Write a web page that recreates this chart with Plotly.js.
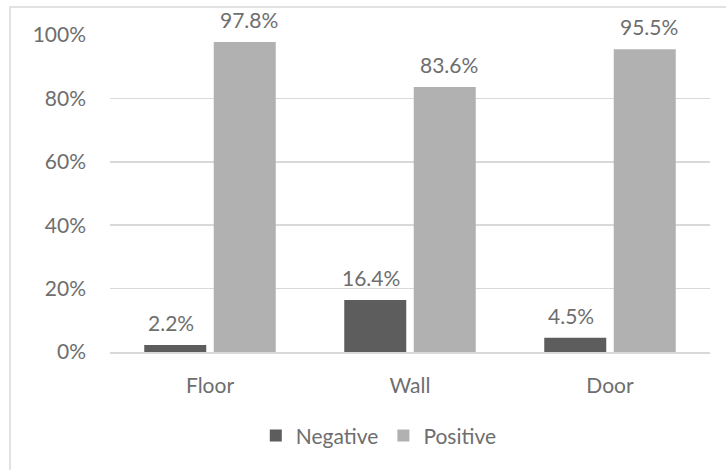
<!DOCTYPE html>
<html>
<head>
<meta charset="utf-8">
<script src="https://cdn.plot.ly/plotly-3.0.1.min.js"></script>
<style>html,body{margin:0;padding:0;background:#fff;}#chart{width:726px;height:470px;}</style>
</head>
<body>
<div id="chart"></div>
<script>
const categories = ["Floor", "Wall", "Door"];
const seriesNames = ["Negative", "Positive"];
const negativeValues = [0.022, 0.164, 0.045];
const positiveValues = [0.978, 0.836, 0.955];
const negativeLabels = ["2.2%", "16.4%", "4.5%"];
const positiveLabels = ["97.8%", "83.6%", "95.5%"];
const yTickVals = [0, 0.2, 0.4, 0.6, 0.8, 1.0];
const yTickText = ["0%", "20%", "40%", "60%", "80%", "100%"];

const font = "Lato, 'Open Sans', sans-serif";
const textColor = "#6e6e6e";
const fs = 21;

const traces = [
  {
    type: "bar", name: seriesNames[0], x: categories, y: negativeValues,
    marker: {color: "#5d5d5d"}, hoverinfo: "none"
  },
  {
    type: "bar", name: seriesNames[1], x: categories, y: positiveValues,
    marker: {color: "#b1b1b1"}, hoverinfo: "none"
  }
];

const annotations = [];
[[negativeValues, negativeLabels, -38.75], [positiveValues, positiveLabels, 38.75]].forEach(([vals, labs, dx]) => {
  categories.forEach((c, i) => {
    annotations.push({
      x: c, y: vals[i], xref: "x", yref: "y", text: labs[i],
      showarrow: false, xanchor: "center", yanchor: "bottom",
      xshift: dx, yshift: 8,
      font: {family: font, size: fs, color: textColor}
    });
  });
});

const W = 600, H = 317;
const layout = {
  width: 726, height: 470,
  margin: {l: 110, r: 16, t: 35, b: 118},
  paper_bgcolor: "#ffffff", plot_bgcolor: "#ffffff",
  font: {family: font, size: fs, color: textColor},
  barmode: "group", bargap: 0.305, bargroupgap: 0.108,
  showlegend: true,
  legend: {orientation: "h", x: 0.448, xanchor: "center", y: -0.2, yanchor: "top",
           font: {family: font, size: fs, color: textColor}, itemwidth: 30},
  xaxis: {
    showgrid: false, showline: true, linecolor: "#d9d9d9", linewidth: 1.5,
    ticks: "", ticklabelstandoff: 14,
    tickfont: {family: font, size: fs, color: textColor}
  },
  yaxis: {
    range: [0, 1], tickvals: yTickVals, ticktext: yTickText,
    showgrid: true, gridcolor: "#d9d9d9", gridwidth: 1.5,
    zeroline: false, showline: false, ticks: "", ticklabelstandoff: 23,
    tickfont: {family: font, size: fs, color: textColor}
  },
  annotations: annotations,
  shapes: [{
    type: "rect", xref: "paper", yref: "paper",
    x0: (10 - 110) / W, x1: (740 - 110) / W,
    y0: (352 - 480) / H, y1: (352 - 7) / H,
    line: {color: "#d9d9d9", width: 1.5}, fillcolor: "rgba(0,0,0,0)", layer: "below"
  }]
};

Plotly.newPlot("chart", traces, layout, {staticPlot: true, displayModeBar: false});
</script>
</body>
</html>
